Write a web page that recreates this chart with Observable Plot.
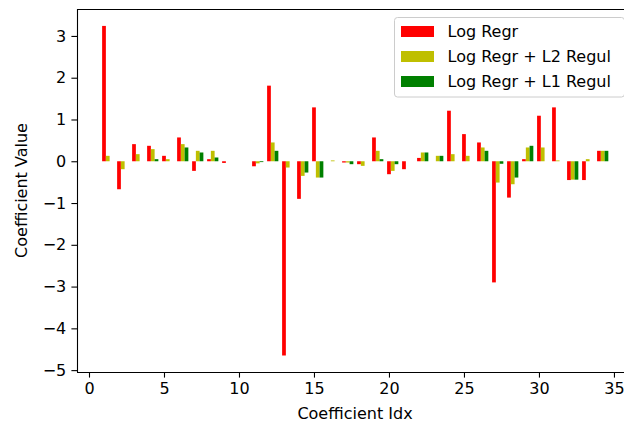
<!DOCTYPE html>
<html>
<head>
<meta charset="utf-8">
<script src="https://cdn.jsdelivr.net/npm/d3@7"></script>
<script src="https://cdn.jsdelivr.net/npm/@observablehq/plot@0.6"></script>
<style>
  html, body { margin: 0; padding: 0; background: white; }
</style>
</head>
<body>
<div id="chart"></div>
<script>
const coefIdx = d3.range(1, 35);
const seriesNames = ["Log Regr", "Log Regr + L2 Regul", "Log Regr + L1 Regul"];
const seriesColors = ["#ff0000", "#bfbf00", "#008000"];
const logRegr = [3.24, -0.67, 0.41, 0.37, 0.13, 0.57, -0.23, 0.05, -0.04, 0, -0.12, 1.81, -4.65, -0.90, 1.29, 0, -0.03, -0.07, 0.57, -0.31, -0.19, 0.08, 0, 1.21, 0.65, 0.45, -2.90, -0.87, 0.05, 1.09, 1.29, -0.45, -0.45, 0.25];
const logRegrL2 = [0.13, -0.19, 0.17, 0.29, 0.05, 0.41, 0.25, 0.25, 0, 0, -0.05, 0.45, -0.15, -0.35, -0.39, 0.02, -0.03, -0.11, 0.25, -0.23, 0, 0.21, 0.13, 0.17, 0.13, 0.33, -0.51, -0.55, 0.33, 0.33, 0.02, -0.44, 0.05, 0.25];
const logRegrL1 = [0, 0, 0, 0.05, 0, 0.33, 0.21, 0.09, 0, 0, -0.02, 0.25, 0, -0.27, -0.39, 0, -0.07, 0, 0.05, -0.07, 0, 0.21, 0.13, 0, 0, 0.25, -0.06, -0.39, 0.37, 0, 0, -0.44, 0, 0.25];
const xTicks = [0, 5, 10, 15, 20, 25, 30, 35];
const yTicks = [-5, -4, -3, -2, -1, 0, 1, 2, 3];

const barWidth = 0.25;
const allSeries = [logRegr, logRegrL2, logRegrL1];
const rowsBySeries = allSeries.map((vals, s) =>
  coefIdx.map((i, k) => ({
    x1: i + s * barWidth - barWidth / 2,
    x2: i + s * barWidth + barWidth / 2,
    v: vals[k]
  }))
);

const xDom = [-0.8, 35.67];
const yDom = [-5.045, 3.645];
const font = "DejaVu Sans";

const svg = Plot.plot({
  width: 624,
  height: 424,
  marginLeft: 77,
  marginRight: 0,
  marginTop: 9,
  marginBottom: 52,
  style: { fontFamily: font, fontSize: "16px", background: "white", color: "black", overflow: "visible" },
  x: { domain: xDom },
  y: { domain: yDom },
  marks: [
    ...rowsBySeries.map((rows, s) =>
      Plot.rect(rows, { x1: "x1", x2: "x2", y1: 0, y2: "v", fill: seriesColors[s] })
    ),
    Plot.ruleX([xDom[0]], { stroke: "black", strokeWidth: 1.1 }),
    Plot.ruleY(yDom, { stroke: "black", strokeWidth: 1.1 }),
    Plot.axisX({ ticks: xTicks, tickSize: 5.6, tickPadding: 5, label: null, strokeWidth: 1.1 }),
    Plot.axisY({ ticks: yTicks, tickSize: 5.6, tickPadding: 5.6, label: null, strokeWidth: 1.1 })
  ]
});

const sel = d3.select(svg);
// axis titles
sel.append("text")
  .attr("x", 355).attr("y", 419)
  .attr("text-anchor", "middle")
  .attr("font-family", font).attr("font-size", 16).attr("fill", "black")
  .text("Coefficient Idx");
sel.append("text")
  .attr("transform", "translate(27,190.5) rotate(-90)")
  .attr("text-anchor", "middle")
  .attr("font-family", font).attr("font-size", 16).attr("fill", "black")
  .text("Coefficient Value");

// legend
const lg = sel.append("g").attr("text-anchor", "start");
lg.append("rect")
  .attr("x", 394.5).attr("y", 17.5).attr("width", 230).attr("height", 79.5)
  .attr("rx", 3).attr("fill", "white").attr("fill-opacity", 0.8)
  .attr("stroke", "#cccccc").attr("stroke-width", 1);
const rowY = [31.5, 56.5, 81.5];
seriesNames.forEach((name, s) => {
  lg.append("rect")
    .attr("x", 401).attr("y", rowY[s] - 5.5).attr("width", 33).attr("height", 11)
    .attr("fill", seriesColors[s]);
  lg.append("text")
    .attr("x", 447.5).attr("y", rowY[s]).attr("dy", "0.36em")
    .attr("text-anchor", "start")
    .attr("font-family", font).attr("font-size", 16).attr("fill", "black")
    .text(name);
});

document.getElementById("chart").appendChild(svg);
</script>
</body>
</html>
